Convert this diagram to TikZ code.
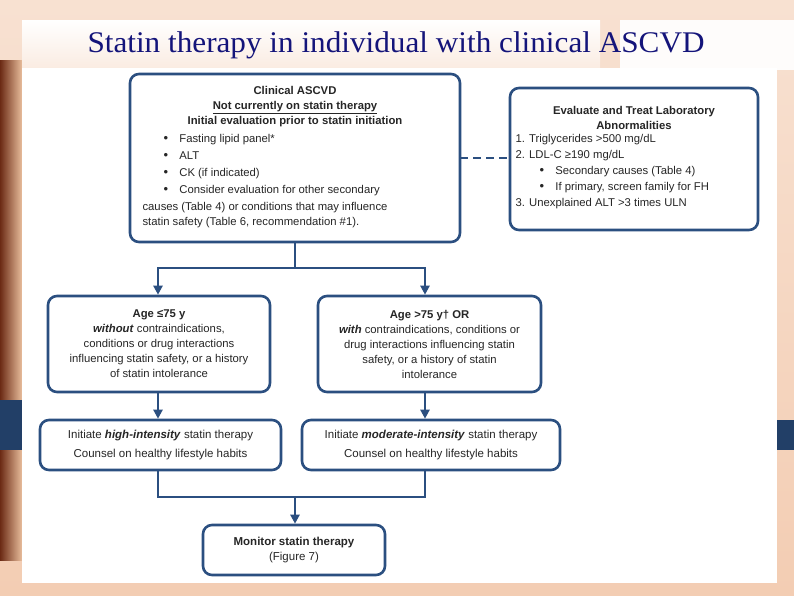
\documentclass[tikz,border=0pt]{standalone}
\usepackage{fontspec}
\setmainfont{Liberation Sans}
\newfontfamily\titlefont{Liberation Serif}
\usetikzlibrary{arrows.meta,positioning}
\definecolor{bx}{HTML}{2B4F80}
\definecolor{peach}{HTML}{F3CDB3}
\definecolor{brownL}{HTML}{6B2A14}
\definecolor{navyT}{HTML}{14147A}
\newcommand{\bul}{\raisebox{0.5pt}{\fontsize{13}{13}\selectfont\textbullet}}
\begin{document}
\begin{tikzpicture}[x=1pt,y=-1pt,
  box/.style={draw=bx,line width=2.6pt,rounded corners=9pt,fill=white,align=center,inner sep=0pt},
  txt/.style={align=center,font=\fontsize{11.3}{15}\selectfont,text=black!85},
  con/.style={draw=bx,line width=2.4pt},
  arr/.style={con,-{Triangle[length=9pt,width=9pt]}}]
\useasboundingbox (0,0) rectangle (794,595);
% background
\shade[top color=peach!60!white,bottom color=peach] (0,0) rectangle (794,595);
\shade[left color=brownL,right color=peach!80!brown] (0,60) rectangle (22,560);
\fill[bx!80!black] (0,400) rectangle (22,450);
\fill[bx!80!black] (777,420) rectangle (794,450);
\shade[top color=white,bottom color=peach!40] (22,20) rectangle (600,70);
\fill[white!95!peach] (620,20) rectangle (794,70);
\fill[white] (22,68) rectangle (777,583);
\node[font=\titlefont\fontsize{30}{32}\selectfont,text=navyT,xscale=1.04] (title) at (396,45) {Statin therapy in individual with clinical ASCVD};
% boxes
\draw[box] (130,74) rectangle (460,242);
\node[txt] (c1) at (295,107) {\textbf{Clinical ASCVD}\\\textbf{\underline{Not currently on statin therapy}}\\\textbf{Initial evaluation prior to statin initiation}};
\node[txt,align=left,anchor=north west,font=\fontsize{11.3}{17}\selectfont] (c2) at (160,131) {\bul\quad Fasting lipid panel*\\\bul\quad ALT\\\bul\quad CK (if indicated)\\\bul\quad Consider evaluation for other secondary};
\node[txt,align=left,anchor=north west] (c3) at (139,199) {causes (Table 4) or conditions that may influence\\statin safety (Table 6, recommendation \#1).};
\coordinate (clinL) at (460,158);
\coordinate (clinB) at (295,242);
\draw[box] (510,88) rectangle (758,230);
\node[txt] (e1) at (634,118) {\textbf{Evaluate and Treat Laboratory}\\\textbf{Abnormalities}};
\node[txt,align=left,anchor=north west,font=\fontsize{11.3}{16}\selectfont] (e2) at (512,131) {1. Triglycerides >500 mg/dL\\2. LDL-C ≥190 mg/dL\\\hspace{24pt}\bul\quad Secondary causes (Table 4)\\\hspace{24pt}\bul\quad If primary, screen family for FH\\3. Unexplained ALT >3 times ULN};
\coordinate (evalL) at (510,158);
\draw[con,dashed,dash pattern=on 8pt off 5pt] (clinL) -- (evalL);

\node[box,minimum width=222pt,minimum height=96pt] (a1) at (159,344) {};
\node[txt] (a1t) at (a1) {\textbf{Age ≤75 y}\\\textbf{\textit{without}} contraindications,\\conditions or drug interactions\\influencing statin safety, or a history\\of statin intolerance};
\node[box,minimum width=223pt,minimum height=96pt] (a2) at (429.5,344) {};
\node[txt] (a2t) at (a2) {\textbf{Age >75 y\textdagger\ OR}\\\textbf{\textit{with}} contraindications, conditions or\\drug interactions influencing statin\\safety, or a history of statin\\intolerance};

\node[box,minimum width=241pt,minimum height=50pt] (h1) at (160.5,445) {};
\node[txt,font=\fontsize{11.5}{19}\selectfont] (h1t) at (h1) {Initiate \textbf{\textit{high-intensity}} statin therapy\\Counsel on healthy lifestyle habits};
\node[box,minimum width=258pt,minimum height=50pt] (h2) at (431,445) {};
\node[txt,font=\fontsize{11.5}{19}\selectfont] (h2t) at (h2) {Initiate \textbf{\textit{moderate-intensity}} statin therapy\\Counsel on healthy lifestyle habits};

\node[box,minimum width=182pt,minimum height=50pt] (m) at (294,550) {};
\node[txt,font=\fontsize{11.5}{15}\selectfont] (mt) at (m) {\textbf{Monitor statin therapy}\\(Figure 7)};

% connectors
\coordinate (j1) at (295,268);
\draw[con] (clinB) -- (j1);
\draw[arr] (j1) -| (a1.north -| 158,0);
\draw[arr] (j1) -| (a2.north -| 425,0);
\draw[arr] (a1.south -| 158,0) -- (h1.north -| 158,0);
\draw[arr] (a2.south -| 425,0) -- (h2.north -| 425,0);
\coordinate (j2) at (295,497);
\draw[con] (h1.south -| 158,0) |- (j2);
\draw[con] (h2.south -| 425,0) |- (j2);
\draw[arr] (j2) -- (m.north -| 295,0);
\end{tikzpicture}
\end{document}
